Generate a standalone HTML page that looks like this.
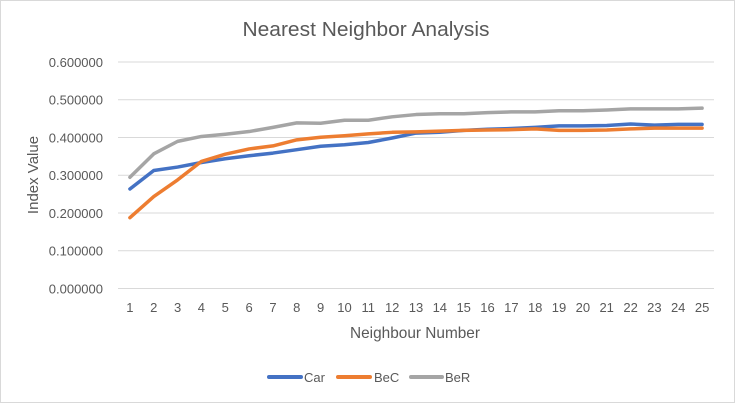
<!DOCTYPE html>
<html><head><meta charset="utf-8"><style>
html,body{margin:0;padding:0;background:#fff;}
svg{display:block;}
text{font-family:"Liberation Sans",Arial,sans-serif;fill:#595959;}
</style></head><body>
<svg width="735" height="403" viewBox="0 0 735 403" xmlns="http://www.w3.org/2000/svg">
<rect x="0.5" y="0.5" width="734" height="402" fill="#fff" stroke="#D9D9D9" stroke-width="1"/>
<text x="366" y="36" font-size="20" text-anchor="middle" textLength="247" lengthAdjust="spacingAndGlyphs">Nearest Neighbor Analysis</text>
<g stroke="#D9D9D9" stroke-width="1">
<line x1="118" y1="62" x2="714" y2="62"/>
<line x1="118" y1="99.8" x2="714" y2="99.8"/>
<line x1="118" y1="137.5" x2="714" y2="137.5"/>
<line x1="118" y1="175.3" x2="714" y2="175.3"/>
<line x1="118" y1="213" x2="714" y2="213"/>
<line x1="118" y1="250.8" x2="714" y2="250.8"/>
<line x1="118" y1="288.5" x2="714" y2="288.5"/>
</g>
<g font-size="13" text-anchor="end">
<text x="103" y="67">0.600000</text>
<text x="103" y="104.5">0.500000</text>
<text x="103" y="142.3">0.400000</text>
<text x="103" y="180">0.300000</text>
<text x="103" y="217.8">0.200000</text>
<text x="103" y="255.5">0.100000</text>
<text x="103" y="293.3">0.000000</text>
</g>
<text transform="translate(38,175) rotate(-90)" font-size="15" text-anchor="middle">Index Value</text>
<g font-size="13" text-anchor="middle">
<text x="129.9" y="312">1</text><text x="153.8" y="312">2</text><text x="177.6" y="312">3</text><text x="201.4" y="312">4</text><text x="225.3" y="312">5</text>
<text x="249.1" y="312">6</text><text x="273" y="312">7</text><text x="296.8" y="312">8</text><text x="320.6" y="312">9</text><text x="344.5" y="312">10</text>
<text x="368.3" y="312">11</text><text x="392.2" y="312">12</text><text x="416" y="312">13</text><text x="439.8" y="312">14</text><text x="463.7" y="312">15</text>
<text x="487.5" y="312">16</text><text x="511.4" y="312">17</text><text x="535.2" y="312">18</text><text x="559" y="312">19</text><text x="582.9" y="312">20</text>
<text x="606.7" y="312">21</text><text x="630.6" y="312">22</text><text x="654.4" y="312">23</text><text x="678.2" y="312">24</text><text x="702.1" y="312">25</text>
</g>
<text x="415" y="338" font-size="16" text-anchor="middle" textLength="130" lengthAdjust="spacingAndGlyphs">Neighbour Number</text>
<g fill="none" stroke-width="3.5" stroke-linejoin="round" stroke-linecap="round">
<polyline stroke="#4472C4" points="129.92,188.96 153.76,170.46 177.6,167.06 201.44,162.53 225.28,158.75 249.12,155.73 272.96,153.08 296.8,149.68 320.64,146.28 344.48,144.77 368.32,142.51 392.16,137.98 416,133.07 439.84,132.31 463.68,130.42 487.52,129.29 511.36,128.53 535.2,127.4 559.04,125.89 582.88,125.89 606.72,125.51 630.56,124 654.4,125.13 678.24,124.38 702.08,124.38"/>
<polyline stroke="#ED7D31" points="129.92,217.67 153.76,196.52 177.6,179.9 201.44,161.39 225.28,154.22 249.12,148.93 272.96,145.91 296.8,139.86 320.64,137.22 344.48,135.71 368.32,133.82 392.16,132.31 416,131.93 439.84,131.18 463.68,130.42 487.52,130.04 511.36,129.67 535.2,128.91 559.04,130.42 582.88,130.42 606.72,130.04 630.56,128.91 654.4,128.16 678.24,128.16 702.08,128.16"/>
<polyline stroke="#A5A5A5" points="129.92,177.26 153.76,153.84 177.6,141.37 201.44,136.46 225.28,134.2 249.12,131.55 272.96,127.4 296.8,122.87 320.64,123.25 344.48,120.22 368.32,120.22 392.16,116.82 416,114.56 439.84,113.8 463.68,113.8 487.52,112.67 511.36,111.91 535.2,111.91 559.04,110.78 582.88,110.78 606.72,110.03 630.56,108.89 654.4,108.89 678.24,108.89 702.08,108.14"/>
</g>
<g stroke-width="4" stroke-linecap="round">
<line x1="269" y1="377" x2="301" y2="377" stroke="#4472C4"/>
<line x1="338" y1="377" x2="370" y2="377" stroke="#ED7D31"/>
<line x1="411" y1="377" x2="442" y2="377" stroke="#A5A5A5"/>
</g>
<g font-size="13">
<text x="304" y="382">Car</text>
<text x="374" y="382">BeC</text>
<text x="445" y="382">BeR</text>
</g>
</svg>
</body></html>
